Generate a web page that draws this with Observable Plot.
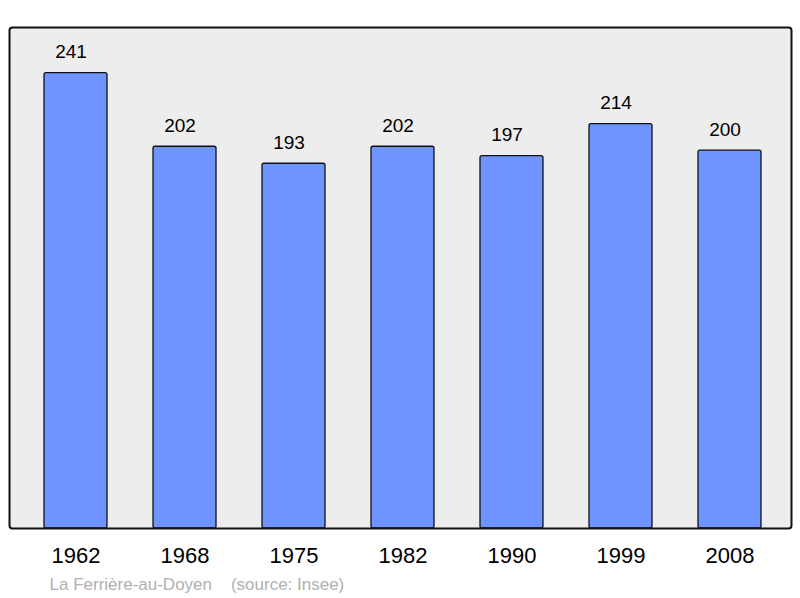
<!DOCTYPE html>
<html>
<head>
<meta charset="utf-8">
<script src="https://cdn.jsdelivr.net/npm/d3@7"></script>
<script src="https://cdn.jsdelivr.net/npm/@observablehq/plot@0.6"></script>
<style>
  html, body { margin: 0; padding: 0; background: #fff; }
  #chart { width: 800px; height: 598px; overflow: hidden; }
</style>
</head>
<body>
<div id="chart"></div>
<script>
const years = ["1962", "1968", "1975", "1982", "1990", "1999", "2008"];
const population = [241, 202, 193, 202, 197, 214, 200];
const caption = "La Ferrière-au-Doyen    (source: Insee)";

const data = years.map((year, i) => ({year, value: population[i]}));
const font = "'Liberation Sans', Arial, sans-serif";

const chart = Plot.plot({
  width: 800,
  height: 598,
  marginTop: 27,
  marginBottom: 70,
  marginLeft: 9,
  marginRight: 9,
  style: {fontFamily: font, background: "#fff", color: "#000"},
  x: {domain: years, paddingInner: 0.423, paddingOuter: 0.28, align: 0.53, label: null},
  y: {domain: [0, 241 * 1.1], axis: null},
  marks: [
    Plot.frame({fill: "#ededed", stroke: null}),
    Plot.barY(data, {x: "year", y: "value", fill: "#7094ff", stroke: "#111", strokeWidth: 1.3, rx: 2}),
    Plot.text(data, {x: "year", y: "value", text: d => String(d.value), lineAnchor: "middle", dx: -5, dy: -21, fontSize: 19, fill: "#000"}),
    Plot.axisX({tickSize: 0, tickPadding: 19, fontSize: 22, label: null, fill: "#000"}),
    Plot.frame({stroke: "#111", strokeWidth: 2, rx: 3}),
    Plot.text([caption], {frameAnchor: "bottom-left", dx: 40, dy: 56, textAnchor: "start", lineAnchor: "middle", fontSize: 17, fill: "#b0b0b0", text: d => d})
  ]
});
chart.querySelectorAll("text").forEach(t => t.setAttribute("xml:space", "preserve"));
chart.style.whiteSpace = "pre";
document.getElementById("chart").appendChild(chart);
</script>
</body>
</html>
